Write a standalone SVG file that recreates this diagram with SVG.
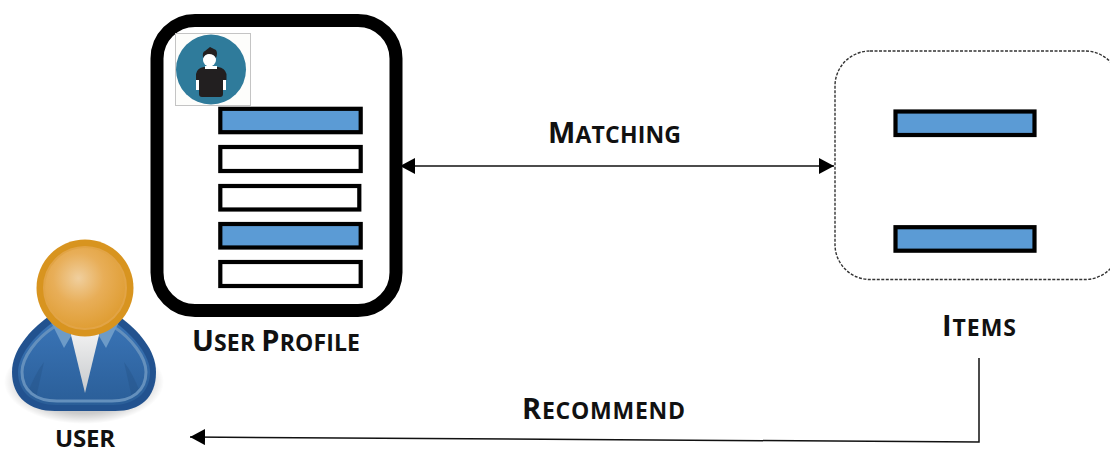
<svg xmlns="http://www.w3.org/2000/svg" width="1110" height="449" viewBox="0 0 1110 449">
<defs>
<radialGradient id="head" cx="0.42" cy="0.38" r="0.68"><stop offset="0" stop-color="#f0cf9e"/><stop offset="0.45" stop-color="#e8ae58"/><stop offset="1" stop-color="#de9b2e"/></radialGradient>
<linearGradient id="body" x1="0" y1="0" x2="0" y2="1"><stop offset="0" stop-color="#3a74b6"/><stop offset="1" stop-color="#2a5e98"/></linearGradient>
<linearGradient id="shirt" x1="0" y1="0" x2="0" y2="1"><stop offset="0" stop-color="#f2f2f2"/><stop offset="1" stop-color="#c6c9cc"/></linearGradient>
<radialGradient id="shade"><stop offset="0" stop-color="#000" stop-opacity="0.4"/><stop offset="0.75" stop-color="#000" stop-opacity="0.2"/><stop offset="1" stop-color="#000" stop-opacity="0"/></radialGradient>
<marker id="ah" markerUnits="userSpaceOnUse" markerWidth="16" markerHeight="16" refX="15" refY="8" orient="auto-start-reverse"><path d="M0 0L15 8L0 16Z" fill="#000"/></marker>
</defs>
<style>
text{font-family:"Open Sans","Noto Sans",sans-serif;font-weight:700;fill:#111}
.big{font-size:29px}.small{font-size:23px}
.bar{stroke:#000;stroke-width:4.200}
.on{fill:#5b9bd5}.off{fill:#fff}
.lnk{fill:none;stroke:#111;stroke-width:1.5}
</style>
<rect width="1110" height="449" fill="#fff"/>
<g id="connectors">
<path class="lnk" d="M400 166H834" marker-start="url(#ah)" marker-end="url(#ah)"/>
<path class="lnk" d="M979 358V442L190 437" marker-end="url(#ah)"/>
</g>
<g id="user-profile">
<rect x="157" y="20.500" width="239" height="290" rx="38" fill="#fff" stroke="#000" stroke-width="13"/>
<rect x="175.500" y="33.500" width="75" height="72" fill="#fdfdfb" stroke="#c4c4c4" stroke-width="1"/>
<circle cx="211" cy="69.500" r="35" fill="#2f7b9b"/>
<path d="M196 90V80H199V90ZM223 90V80H226V90Z" fill="#fff"/>
<path d="M204 67Q197 68 196 74V80H199V94Q199 97 202 97H220Q223 97 223 94V80H226.500V74Q225 68 218 67Z" fill="#221f20"/>
<rect x="205" y="66" width="12" height="3" fill="#fff"/>
<circle cx="209.500" cy="60" r="6.500" fill="#fff"/>
<path d="M203 58Q202 52 205 51L210 47L216 50Q218 53 216 58Q214 54 209 54Q205 54 203 58Z" fill="#221f20"/>
<rect class="bar on" x="220.300" y="108.800" width="140.400" height="23.400"/>
<rect class="bar off" x="220.300" y="147" width="140.400" height="24"/>
<rect class="bar off" x="220.300" y="186" width="139" height="23.500"/>
<rect class="bar on" x="220.300" y="224" width="140.400" height="23.500"/>
<rect class="bar off" x="220.300" y="262" width="140.400" height="24"/>
<text x="192" y="351" textLength="168"><tspan class="big">U</tspan><tspan class="small">SER </tspan><tspan class="big">P</tspan><tspan class="small">ROFILE</tspan></text>
</g>
<g id="items">
<rect x="835" y="51" width="285" height="228.500" rx="35" fill="#fff" stroke="#333" stroke-width="1.400" stroke-dasharray="3 1.500"/>
<rect class="bar on" x="895.500" y="111.500" width="139" height="23.500"/>
<rect class="bar on" x="895.500" y="227.200" width="139" height="23.500"/>
<text x="942" y="336" textLength="74"><tspan class="big">I</tspan><tspan class="small">TEMS</tspan></text>
</g>
<g id="user">
<ellipse cx="84" cy="382" rx="80" ry="42" fill="url(#shade)"/>
<path d="M48 317C30 330 12 350 12 372C12 398 30 411 55 411H115C140 411 156 398 156 372C156 350 138 330 120 317Z" fill="#22528f"/>
<path d="M52 323C34 336 18 356 18 372C18 393 34 405 56 405H113C134 405 150 393 150 372C150 356 134 336 116 323Z" fill="url(#body)"/>
<path d="M28 392Q36 372 44 362L36 398Z" fill="#224d7f" opacity="0.3"/>
<path d="M140 392Q132 372 124 362L132 398Z" fill="#224d7f" opacity="0.3"/>
<path d="M54 327C37 338 22 357 22 372C22 391 36 401 57 401H112C132 401 146 391 146 372C146 357 131 338 114 327" fill="none" stroke="#6490bd" stroke-width="3"/>
<path d="M70 331L85 393L100 331Z" fill="url(#shirt)"/>
<path d="M51 322L64 348L71 336L69 324Z" fill="#6d9bc8"/>
<path d="M119 322L106 348L99 336L101 324Z" fill="#6d9bc8"/>
<circle cx="85" cy="288" r="48.500" fill="#d8941f"/>
<circle cx="85" cy="288" r="41" fill="url(#head)" stroke="#e2a446" stroke-width="2"/>
<text x="55" y="447" textLength="60" style="font-size:24px">USER</text>
</g>
<g id="labels">
<text x="548" y="143" textLength="133"><tspan class="big">M</tspan><tspan class="small">ATCHING</tspan></text>
<text x="522" y="419" textLength="163"><tspan class="big">R</tspan><tspan class="small">ECOMMEND</tspan></text>
</g>
</svg>
